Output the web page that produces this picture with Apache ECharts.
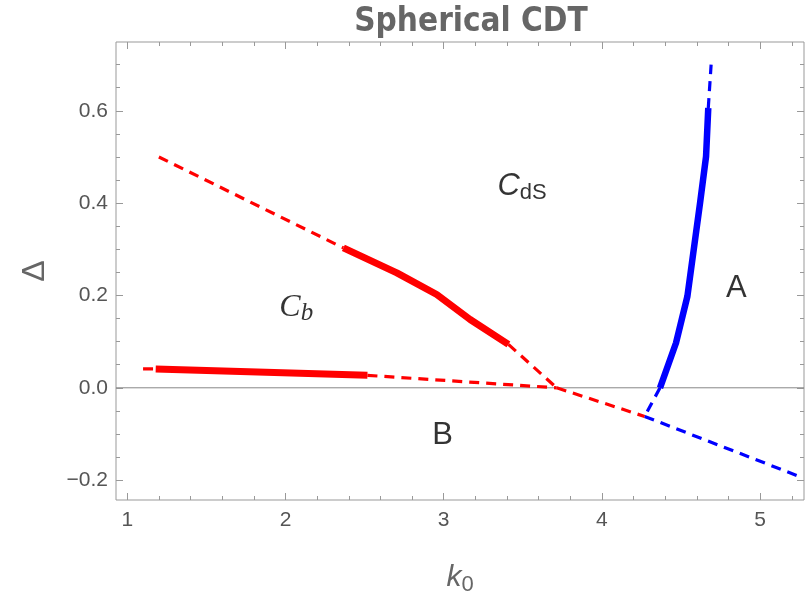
<!DOCTYPE html>
<html>
<head>
<meta charset="utf-8">
<script src="https://cdn.jsdelivr.net/npm/echarts@6/dist/echarts.min.js"></script>
<style>
  html, body { margin: 0; padding: 0; background: #ffffff; }
  #chart { width: 807px; height: 592px; }
</style>
</head>
<body>
<div id="chart"></div>
<script>
// Plot range (k0 horizontally, Delta vertically)
const xRange = [0.929, 5.277];
const yRange = [-0.243, 0.749];

// Frame ticks
const xMajorTicks = [1, 2, 3, 4, 5];
const xMinorTicks = [1.2, 1.4, 1.6, 1.8, 2.2, 2.4, 2.6, 2.8, 3.2, 3.4, 3.6, 3.8, 4.2, 4.4, 4.6, 4.8, 5.2];
const yMajorTicks = [-0.2, 0, 0.2, 0.4, 0.6];
const yMinorTicks = [-0.15, -0.1, -0.05, 0.05, 0.1, 0.15, 0.25, 0.3, 0.35, 0.45, 0.5, 0.55, 0.65, 0.7];

// Phase boundaries, [k0, Delta]
const cbCdsDashed   = [[1.2, 0.5], [2.366, 0.303]];
const cbCdsMeasured = [[2.366, 0.303], [2.704, 0.249], [2.956, 0.202], [3.167, 0.148], [3.409, 0.094]];
const cbCdsToTriple = [[3.409, 0.094], [3.714, 0.0]];

const cbBDashedLeft  = [[1.1, 0.041], [1.18, 0.041]];
const cbBMeasured    = [[1.18, 0.041], [2.518, 0.027]];
const cbBToTriple    = [[2.518, 0.027], [3.714, 0.0]];

const bCdsDashed     = [[3.714, 0.0], [4.27, -0.062]];
const bADashed       = [[4.27, -0.062], [5.27, -0.195]];

const aCdsMeasured   = [[4.367, 0.0], [4.468, 0.097], [4.54, 0.198], [4.62, 0.40], [4.658, 0.501], [4.672, 0.606]];
const aCdsDashedTop  = [[4.672, 0.606], [4.69, 0.70]];
const aCdsDashedLow  = [[4.367, 0.0], [4.27, -0.062]];

// Zero line
const zeroLine = [[xRange[0], 0], [xRange[1], 0]];

// Phase names and where they sit
const phaseNames = ['cds', 'cb', 'A', 'B'];
const phasePos   = [[3.495, 0.436], [2.068, 0.174], [4.85, 0.216], [2.993, -0.104]];

const RED = '#ff0000';
const BLUE = '#0000ff';
const FRAME = '#999999';
const TEXT = '#666666';
const SANS = 'Liberation Sans, Arial, sans-serif';

function tickAxis(kind, position, values, len, withLabels) {
  const range = kind === 'x' ? xRange : yRange;
  return {
    type: 'value',
    position: position,
    min: range[0],
    max: range[1],
    axisLine: { show: false, onZero: false },
    splitLine: { show: false },
    axisTick: {
      show: true, inside: true, length: len,
      customValues: values,
      lineStyle: { color: FRAME, width: 1 }
    },
    axisLabel: withLabels ? {
      show: true,
      customValues: values,
      color: '#555555',
      fontFamily: SANS,
      fontSize: 21,
      margin: kind === 'x' ? 10 : 8,
      formatter: function (v) {
        if (kind === 'x') return String(Math.round(v));
        const s = Math.abs(v).toFixed(1);
        return v < -1e-9 ? '\u2212' + s : s;
      }
    } : { show: false }
  };
}

function line(data, color, width, dashed) {
  return {
    type: 'line',
    data: data,
    xAxisIndex: 0, yAxisIndex: 0,
    symbol: 'none',
    silent: true,
    animation: false,
    lineStyle: {
      color: color, width: width,
      type: dashed ? [10, 7] : 'solid',
      cap: 'butt', join: 'round'
    },
    z: dashed ? 3 : 4
  };
}

const chart = echarts.init(document.getElementById('chart'), null, { renderer: 'canvas' });

const xAxes = [
  tickAxis('x', 'bottom', xMajorTicks, 7, true),
  tickAxis('x', 'bottom', xMinorTicks, 4, false),
  tickAxis('x', 'top', xMajorTicks, 7, false),
  tickAxis('x', 'top', xMinorTicks, 4, false)
];
xAxes[0].name = '{k|k}{s|0}';
xAxes[0].nameLocation = 'middle';
xAxes[0].nameGap = 60;
xAxes[0].nameTextStyle = {
  rich: {
    k: { fontFamily: SANS, fontStyle: 'italic', fontSize: 30, color: TEXT },
    s: { fontFamily: SANS, fontSize: 22, color: TEXT, padding: [14, 0, 0, 0] }
  }
};

const yAxes = [
  tickAxis('y', 'left', yMajorTicks, 7, true),
  tickAxis('y', 'left', yMinorTicks, 4, false),
  tickAxis('y', 'right', yMajorTicks, 7, false),
  tickAxis('y', 'right', yMinorTicks, 4, false)
];
yAxes[0].name = '\u0394';
yAxes[0].nameLocation = 'middle';
yAxes[0].nameRotate = 90;
yAxes[0].nameGap = 65;
yAxes[0].nameTextStyle = { fontFamily: SANS, fontSize: 32, color: TEXT };

const richLabels = {
  c: { fontFamily: SANS, fontStyle: 'italic', fontSize: 31, color: '#000' },
  ds: { fontFamily: SANS, fontSize: 22, color: '#000', padding: [12, 0, 0, 0] },
  cs: { fontFamily: 'Liberation Serif, Times New Roman, serif', fontStyle: 'italic', fontSize: 32, color: '#000' },
  b: { fontFamily: 'Liberation Serif, Times New Roman, serif', fontStyle: 'italic', fontSize: 25, color: '#000', padding: [12, 0, 0, 0] },
  big: { fontFamily: SANS, fontSize: 31, color: '#000' }
};

chart.setOption({
  animation: false,
  backgroundColor: '#ffffff',
  title: {
    text: 'Spherical CDT',
    left: 466,
    textAlign: 'center',
    top: 1,
    textStyle: {
      fontFamily: 'DejaVu Sans Condensed, Liberation Sans Narrow, Liberation Sans, sans-serif',
      fontWeight: 'bold',
      fontSize: 33,
      color: TEXT
    }
  },
  grid: {
    left: 116, right: 3, top: 42, bottom: 92,
    outerBoundsMode: 'none',
    containLabel: false,
    show: true, borderColor: FRAME, borderWidth: 1, backgroundColor: 'transparent'
  },
  xAxis: xAxes,
  yAxis: yAxes,
  series: [
    {
      type: 'line', data: zeroLine, symbol: 'none', silent: true,
      lineStyle: { color: '#888888', width: 1 }, z: 1
    },
    line(cbCdsDashed, RED, 3.2, true),
    line(cbCdsMeasured, RED, 7, false),
    line(cbCdsToTriple, RED, 3.2, true),
    line(cbBDashedLeft, RED, 3.2, true),
    line(cbBMeasured, RED, 7, false),
    line(cbBToTriple, RED, 3.2, true),
    line(bCdsDashed, RED, 3.2, true),
    line(bADashed, BLUE, 3.2, true),
    line(aCdsMeasured, BLUE, 6.5, false),
    line(aCdsDashedTop, BLUE, 3.2, true),
    line(aCdsDashedLow, BLUE, 3.2, true),
    {
      type: 'scatter',
      data: phasePos.map((p, i) => ({ value: p, name: phaseNames[i] })),
      symbolSize: 0,
      silent: true,
      z: 5,
      label: {
        show: true,
        position: 'inside',
        formatter: function (p) {
          if (p.name === 'cds') return '{c|C}{ds|dS}';
          if (p.name === 'cb') return '{cs|C}{b|b}';
          return '{big|' + p.name + '}';
        },
        rich: richLabels
      }
    }
  ]
});
</script>
</body>
</html>
